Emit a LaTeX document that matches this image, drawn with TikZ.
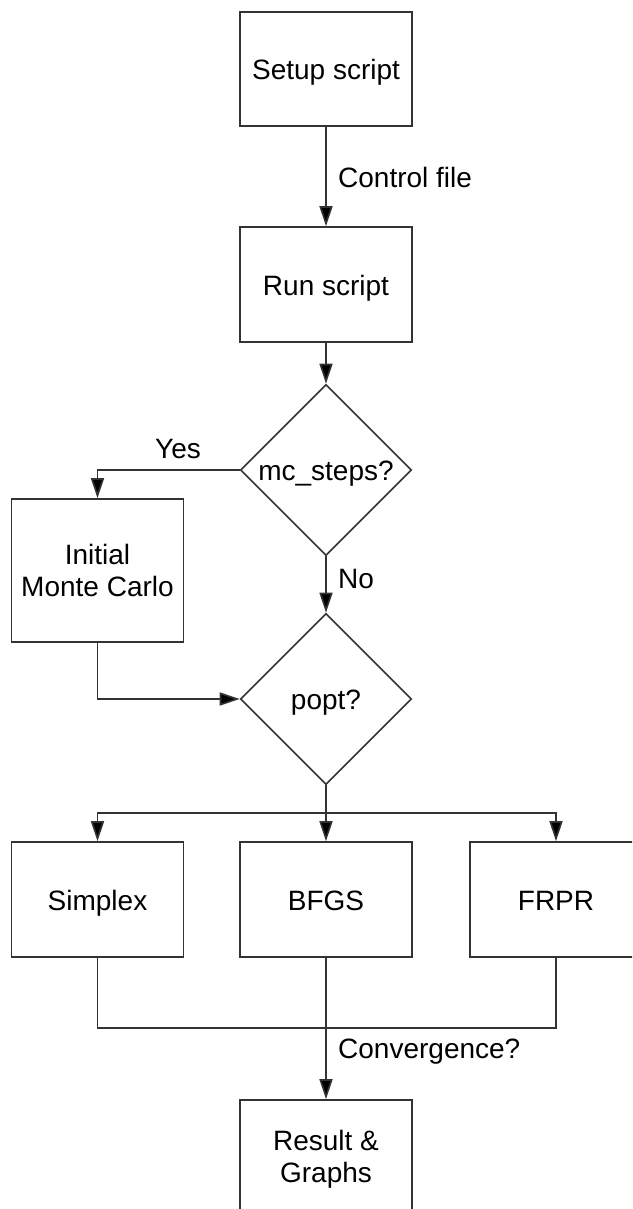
\documentclass[tikz,border=0pt]{standalone}
\usepackage{fontspec}
\setmainfont{Liberation Sans}
\usetikzlibrary{shapes.geometric,arrows.meta}

\begin{document}
\begin{tikzpicture}[x=1pt,y=-1pt,
  every node/.style={font=\fontsize{28}{32}\selectfont},
  line/.style={draw=black!80, line width=1.6pt},
  flow/.style={line, -{Triangle[length=20pt,width=13pt,fill=black]}},
  box/.style={rectangle, line, inner sep=0pt, minimum width=172pt,
    text height=21pt, text depth=0pt},
  tallbox/.style={rectangle, line, inner sep=0pt, minimum width=172pt,
    align=center},
  decision/.style={diamond, line, inner sep=0pt, minimum width=171pt,
    minimum height=171pt, text height=21pt, text depth=0pt},
  tag/.style={inner sep=0pt}
]
\clip (0,0) rectangle (632,1209);
\fill[white] (0,0) rectangle (632,1209);

% boxes and decisions
\node[box, minimum height=114pt] (setup) at (326,69) {Setup script};
\node[box, minimum height=115pt] (run) at (326,284.5) {Run script};
\node[decision] (mc) at (326,470) {mc\_steps?};
\node[tallbox, minimum height=143pt] (mcbox) at (97.5,570.5) {Initial\\Monte Carlo};
\node[decision] (popt) at (326,699) {popt?};
\node[box, minimum height=115pt] (simplex) at (97.5,899.5) {Simplex};
\node[box, minimum height=115pt] (bfgs) at (326,899.5) {BFGS};
\node[box, minimum height=115pt] (frpr) at (556,899.5) {FRPR};
\node[tallbox, minimum height=119pt] (result) at (326,1159.5) {Result \&\\Graphs};

% branch and join points
\coordinate (split) at (326,813);
\coordinate (join) at (326,1028);

% connectors
\draw[flow] (setup.south) -- (run.north);
\draw[flow] (run.south) -- (mc.north);
\draw[flow] (mc.west) -| (mcbox.north);
\draw[flow] (mc.south) -- (popt.north);
\draw[flow] (mcbox.south) |- (popt.west);
\draw[line] (popt.south) -- (split);
\draw[flow] (split) -| (simplex.north);
\draw[flow] (split) -- (bfgs.north);
\draw[flow] (split) -| (frpr.north);
\draw[line] (simplex.south) |- (join) -| (frpr.south);
\draw[line] (bfgs.south) -- (join);
\draw[flow] (join) -- (result.north);

% connector labels
\node[tag, anchor=base west] (lctl) at (338,187) {Control file};
\node[tag, anchor=base] (lyes) at (178,458) {Yes};
\node[tag, anchor=base west] (lno) at (338,588) {No};
\node[tag, anchor=base west] (lconv) at (338,1058) {Convergence?};
\end{tikzpicture}
\end{document}
